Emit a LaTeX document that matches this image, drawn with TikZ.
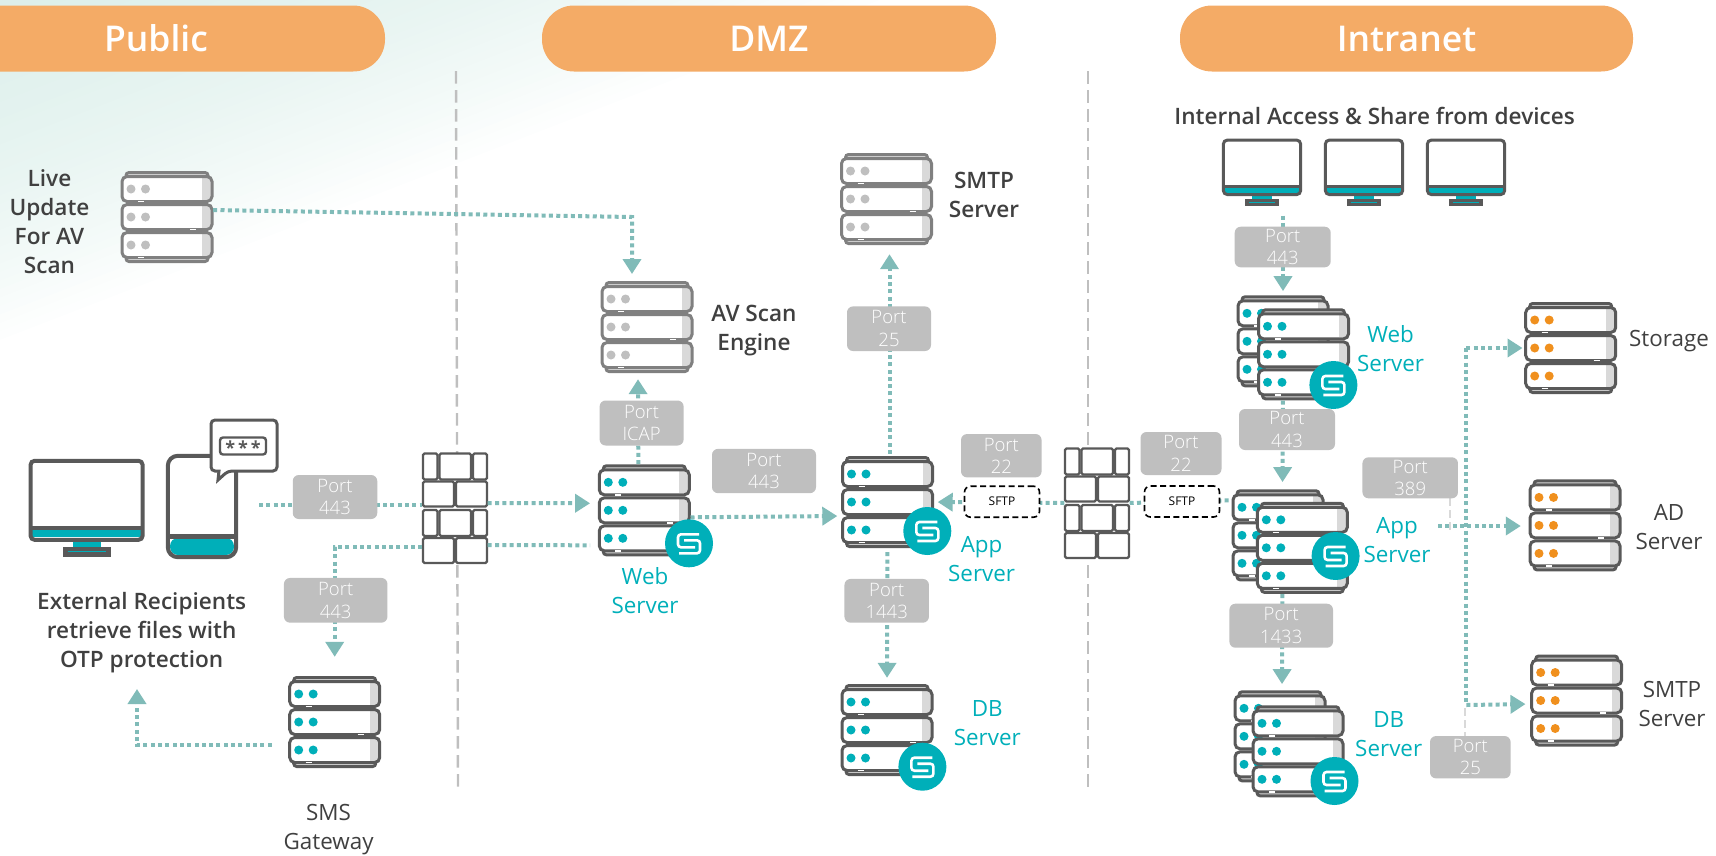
\documentclass[tikz,border=0pt]{standalone}
\usepackage{fontspec}
\usepackage{xcolor}
\usepackage{tikz}
\usetikzlibrary{arrows.meta}
\setsansfont{Open Sans}
\newfontfamily\semifont{Open Sans Semibold}
\newfontfamily\lightfont{Open Sans Light}
\definecolor{hdrorange}{HTML}{F4AB66}
\definecolor{flowteal}{HTML}{80BBB8}
\definecolor{brandteal}{HTML}{00AFB9}
\definecolor{iconline}{HTML}{595959}
\definecolor{iconmute}{HTML}{808080}
\definecolor{dotmute}{HTML}{BFBFBF}
\definecolor{dotorange}{HTML}{F0901E}
\definecolor{srvshade}{HTML}{D9D9D9}
\definecolor{portgrey}{HTML}{BFBFBF}
\definecolor{inktext}{HTML}{404040}
\definecolor{washteal}{HTML}{CFE9E3}

\newcommand{\server}[4]{%
  \node[srvbox] (#1) at (#2) {};
  \begin{scope}[shift={(#1.center)},color=#3,line width=3pt]
    \draw[fill=srvshade,rounded corners=3pt] (-41,-40) -- (-41,-44.5) -- (41,-44.5) -- (41,-40);
    \draw[fill=srvshade,rounded corners=3pt] (-41,40) -- (-41,44.5) -- (41,44.5) -- (41,40);
    \foreach \uy/\ux in {-28/-26,0/26,28/-26} {
      \fill[white,rounded corners=5pt] (-45,\uy-12.5) rectangle (45,\uy+12.5);
      \fill[srvshade] (35,\uy-11) rectangle (44,\uy+11);
      \draw[rounded corners=5pt] (-45,\uy-12.5) rectangle (45,\uy+12.5);
      \draw[white,line width=1.5pt] (\ux-3,\uy+12.5) -- (\ux+3,\uy+12.5);
      \fill[#4] (-36,\uy) circle (4.5pt);
      \fill[#4] (-21.5,\uy) circle (4.5pt);
    }
  \end{scope}}
\newcommand{\logobadge}[2]{%
  \node[badge] (#1) at (#2) {};
  \begin{scope}[shift={(#1.center)},white,line width=2.6pt,rounded corners=3pt]
    \draw (10,-9) -- (-11,-9) -- (-11,4) -- (6,4);
    \draw (-5,-3) -- (11,-3) -- (11,10) -- (-10,10);
  \end{scope}}
\newcommand{\firewall}[2]{%
  \node[wallbox] (#1) at (#2) {};
  \begin{scope}[shift={(#1.center)},iconline,line width=2.4pt,rounded corners=1.5pt]
    \foreach \ry in {-54.5,2} {
      \draw (-32,\ry) rectangle (-17.5,\ry+26);
      \draw (-15.5,\ry) rectangle (16,\ry+26);
      \draw (18,\ry) rectangle (32,\ry+26);
    }
    \foreach \ry in {-26.5,30} {
      \draw (-32,\ry) rectangle (-1,\ry+25);
      \draw (1,\ry) rectangle (32,\ry+25);
    }
  \end{scope}}
\newcommand{\monitor}[4]{%
  \node[minimum width=#3*116pt,minimum height=#3*98pt,inner sep=0pt] (#1) at (#2) {};
  \begin{scope}[shift={(#1.center)},scale=#3,line width=#4pt,iconline]
    \fill[brandteal] (-14,33) rectangle (14,40);
    \fill[iconline] (-24,39) rectangle (24,49);
    \draw[brandteal,line width=1pt] (-19,44) -- (19,44);
    \fill[white,rounded corners=4pt] (-56,-47) rectangle (56,32);
    \fill[brandteal] (-56,20) rectangle (56,29);
    \draw[rounded corners=4pt] (-56,-47) rectangle (56,32);
    \draw (-56,20) -- (56,20);
  \end{scope}}

\begin{document}
\begin{tikzpicture}[
   x=1pt,y=-1pt,
   font=\sffamily,
   srvbox/.style={minimum width=92pt,minimum height=92pt,inner sep=0pt},
   wallbox/.style={minimum width=65pt,minimum height=110pt,inner sep=0pt,fill=white},
   badge/.style={circle,fill=brandteal,minimum size=48pt,inner sep=0pt},
   hdr/.style={fill=hdrorange,rounded corners=32pt,minimum height=66pt,text=white,font=\semifont\fontsize{35.5}{36}\selectfont},
   port/.style={fill=portgrey,rounded corners=6pt,inner sep=0pt,text=white,align=center,font=\lightfont\fontsize{18.5}{22.5}\selectfont},
   sftp/.style={draw=black,line width=1.6pt,dash pattern=on 6pt off 3.5pt,rounded corners=6pt,fill=white,minimum width=75pt,minimum height=31pt,inner sep=0pt,text=black,font=\sffamily\fontsize{12}{14}\selectfont},
   lbl/.style={text=inktext,align=center,font=\semifont\fontsize{22.6}{29}\selectfont},
   plain/.style={text=inktext,align=center,font=\sffamily\fontsize{22.4}{29}\selectfont},
   svc/.style={text=brandteal,align=center,font=\sffamily\fontsize{22.4}{29}\selectfont},
   sep/.style={dotmute,line width=2.4pt,dash pattern=on 12.5pt off 6.5pt},
   stub/.style={srvshade,line width=2pt,dash pattern=on 8pt off 4pt},
   dots/.style={flowteal,line width=4pt,dash pattern=on 4pt off 3.3pt},
   flow/.style={dots,-{Triangle[length=15pt,width=18pt]}}]
\useasboundingbox (0,0) rectangle (1716,855);
\foreach \st in {1,...,40} {
  \fill[washteal,opacity=0.03] (0,0) -- ({22*\st},0) -- (0,{8.5*\st}) -- cycle;
}
\node[hdr,minimum width=458pt] (pubhdr) at (156,38.5) {Public};
\node[hdr,minimum width=454pt] (dmzhdr) at (769,38.5) {DMZ};
\node[hdr,minimum width=453pt] (inthdr) at (1406.5,38.5) {Intranet};
\coordinate (sepatop) at (456,71);
\coordinate (sepabot) at (458,789);
\coordinate (sepbtop) at (1088,71);
\coordinate (sepbbot) at (1088,789);
\draw[sep] (sepatop) -- (sepabot);
\draw[sep] (sepbtop) -- (sepbbot);
\server{livesrv}{167,217}{iconmute}{dotmute}
\server{avsrv}{647,327}{iconmute}{dotmute}
\server{smtpsrv}{886.5,199}{iconmute}{dotmute}
\server{websrv}{644.3,510.3}{iconline}{brandteal}
\server{appsrv}{887.5,502}{iconline}{brandteal}
\server{dbsrv}{887,730}{iconline}{brandteal}
\server{smssrv}{334.7,722}{iconline}{brandteal}
\server{webback}{1283,341.3}{iconline}{brandteal}
\server{webfront}{1303.5,354.3}{iconline}{brandteal}
\server{appback}{1278,535.3}{iconline}{brandteal}
\server{appfront}{1302.3,547.8}{iconline}{brandteal}
\server{dbback}{1280,736.3}{iconline}{brandteal}
\server{dbfront}{1298,751.3}{iconline}{brandteal}
\server{storesrv}{1570.7,348}{iconline}{dotorange}
\server{adsrv}{1575,525.4}{iconline}{dotorange}
\server{mailsrv}{1576.7,700.5}{iconline}{dotorange}
\firewall{walla}{455,508}
\firewall{wallb}{1097,503}
\monitor{extmon}{86.6,507.8}{1}{4}
\monitor{mona}{1262,172.5}{0.69}{3}
\monitor{monb}{1364,172.5}{0.69}{3}
\monitor{monc}{1466,172.5}{0.69}{3}
\node[minimum width=68pt,minimum height=101pt,inner sep=0pt] (phone) at (202,506.5) {};
\fill[white,rounded corners=10pt] (phone.north west) rectangle (phone.south east);
\fill[brandteal,rounded corners=8pt] (170,538) rectangle (234,555);
\draw[iconline,line width=4pt,rounded corners=10pt] (phone.north west) rectangle (phone.south east);
\draw[iconline,line width=5pt] (170,536) -- (234,536);
\draw[iconline,line width=3pt,fill=white,rounded corners=4pt] (211,420) -- (277,420) -- (277,471) -- (228,471) [sharp corners] -- (218,480) -- (219,471) [rounded corners=4pt] -- (211,471) -- cycle;
\node[draw=iconline,line width=2.4pt,rounded corners=3pt,minimum width=46pt,text height=11pt,text depth=5pt,inner sep=0.5pt,text=iconline,font=\sffamily\bfseries\fontsize{18}{18}\selectfont] (otp) at (243,446) {\raisebox{-5pt}{*\kern3pt*\kern3pt*}};
\coordinate (phoneout) at (259,505);
\coordinate (avturn) at (632,217);
\coordinate (avin) at (632,274);
\coordinate (smsturn) at (137,689);
\coordinate (adfrom) at (1438,526);
\coordinate (trunktop) at (1466.4,348);
\coordinate (trunkbot) at (1466.4,705);
\draw[dots] (phoneout) -- ([yshift=3pt]walla.west);
\draw[flow,shorten >=8pt] ([yshift=5pt]walla.east) -- ([yshift=7pt]websrv.west);
\draw[flow,shorten >=19pt] ([yshift=-39pt]walla.west) -| (smssrv.north);
\draw[dots] ([yshift=-37pt]walla.east) -- ([xshift=-8pt,yshift=-35pt]websrv.west);
\draw[flow] ([xshift=-17pt,yshift=-23pt]smssrv.west) -| (smsturn);
\draw[flow] ([yshift=7pt]livesrv.east) -- (avturn) -- (avin);
\draw[flow,shorten >=6pt] ([xshift=-6pt]websrv.north) -- ([xshift=-9pt]avsrv.south);
\draw[flow,shorten >=4pt] ([yshift=-7pt]websrv.east) -- ([yshift=-14pt]appsrv.west);
\draw[flow,shorten >=9pt,shorten <=2pt] ([xshift=2pt]appsrv.north) -- ([xshift=3pt]smtpsrv.south);
\draw[flow,shorten >=6pt,shorten <=4pt] (appsrv.south) -- (dbsrv.north);
\draw[flow,shorten >=4pt] (wallb.west) -- (appsrv.east);
\draw[dots] (wallb.east) -- ([yshift=35pt]appback.west);
\draw[flow,shorten >=4pt,shorten <=9pt] ([xshift=21pt]mona.south) -- (webback.north);
\draw[flow,shorten >=7pt,shorten <=13pt] (webback.south) -- ([xshift=4.5pt]appback.north);
\draw[flow,shorten >=6pt] ([xshift=-20pt]appfront.south) -- ([xshift=2pt]dbback.north);
\draw[dots] (trunktop) -- (trunkbot);
\draw[flow,shorten >=2pt] (trunktop) -- (storesrv.west);
\draw[flow,shorten >=5pt] (trunkbot) -- ([yshift=-3.5pt]mailsrv.west);
\draw[flow,shorten >=8pt] (adfrom) -- ([yshift=-0.6pt]adsrv.west);
\coordinate (stubatop) at (1449.6,498);
\coordinate (stubabot) at (1449.6,532);
\coordinate (stubbtop) at (1464.6,708);
\coordinate (stubbbot) at (1464.6,736);
\draw[stub] (stubatop) -- (stubabot);
\draw[stub] (stubbtop) -- (stubbbot);
\node[port,minimum width=84.5pt,minimum height=44pt] (portext) at (335,497) {Port\\443};
\node[port,minimum width=103.5pt,minimum height=44.7pt] (portsms) at (335.7,600.3) {Port\\443};
\node[port,minimum width=84pt,minimum height=45pt] (porticap) at (641.6,423) {Port\\ICAP};
\node[port,minimum width=104pt,minimum height=44.3pt] (portweb) at (764,471) {Port\\443};
\node[port,minimum width=84pt,minimum height=44.6pt] (portmail) at (889,328.7) {Port\\25};
\node[port,minimum width=84.5pt,minimum height=43.7pt] (portdb) at (886.7,600.8) {Port\\1443};
\node[port,minimum width=80.6pt,minimum height=43.3pt] (portsftpa) at (1001.3,455.7) {Port\\22};
\node[port,minimum width=81pt,minimum height=43pt] (portsftpb) at (1181,453.5) {Port\\22};
\node[port,minimum width=96pt,minimum height=40.6pt] (portint) at (1282.7,247) {Port\\443};
\node[port,minimum width=96pt,minimum height=41pt] (portmid) at (1287,429.5) {Port\\443};
\node[port,minimum width=103.6pt,minimum height=44pt] (portsql) at (1281.2,625.7) {Port\\1433};
\node[port,minimum width=95.5pt,minimum height=41pt] (portldap) at (1410.2,477.8) {Port\\389};
\node[port,minimum width=80.6pt,minimum height=42.3pt] (portsmtp) at (1470.3,757.2) {Port\\25};
\node[sftp] (sftpa) at (1002,501.7) {SFTP};
\node[sftp] (sftpb) at (1182,501.5) {SFTP};
\logobadge{webbadge}{689,543.3}
\logobadge{appbadge}{927.3,531}
\logobadge{dbbadge}{922.4,766.7}
\logobadge{webibadge}{1333.4,385}
\logobadge{appibadge}{1335.6,556}
\logobadge{dbibadge}{1334.5,781}
\node[lbl] (livelbl) at (49.5,221.5) {Live\\Update\\For AV\\Scan};
\node[lbl] (avlbl) at (754,331) {AV Scan\\Engine};
\node[lbl] (smtplbl) at (984,195.3) {SMTP\\Server};
\node[lbl] (intlbl) at (1374.7,116) {Internal Access \& Share from devices};
\node[lbl] (extlbl) at (141.7,633) {External Recipients\\retrieve files with\\OTP protection};
\node[plain] (smslbl) at (328.6,829.5) {SMS\\Gateway};
\node[plain] (storelbl) at (1669,341) {Storage};
\node[plain] (adlbl) at (1669,527.2) {AD\\Server};
\node[plain] (maillbl) at (1672,703.5) {SMTP\\Server};
\node[svc] (weblbl) at (645,590.3) {Web\\Server};
\node[svc] (applbl) at (981.6,559) {App\\Server};
\node[svc] (dblbl) at (987.3,722.8) {DB\\Server};
\node[svc] (webilbl) at (1390.6,348.2) {Web\\Server};
\node[svc] (appilbl) at (1397,540.2) {App\\Server};
\node[svc] (dbilbl) at (1388.7,734.5) {DB\\Server};
\end{tikzpicture}
\end{document}
